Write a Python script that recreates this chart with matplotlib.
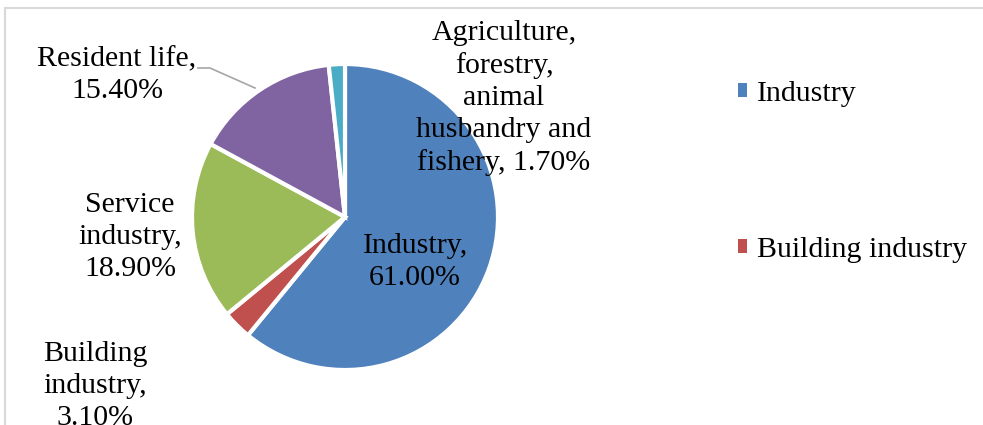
import matplotlib.pyplot as plt
from matplotlib.patches import Rectangle

plt.rcParams['font.family'] = ['Liberation Serif', 'DejaVu Serif']

categories = ['Industry', 'Building industry', 'Service industry', 'Resident life',
              'Agriculture, forestry, animal husbandry and fishery']
shares = [61.00, 3.10, 18.90, 15.40, 1.70]
colors = ['#4F81BD', '#C0504D', '#9BBB59', '#8064A2', '#4BACC6']

label_texts = ['Industry,\n61.00%', 'Building\nindustry,\n3.10%', 'Service\nindustry,\n18.90%',
               'Resident life,\n15.40%', 'Agriculture,\nforestry,\nanimal\nhusbandry and\nfishery, 1.70%']
# label centres in pixels (x, y from top)
label_pos = [(415, 262), (95, 386), (130, 237), (117, 75), (504, 98)]

W, H = 983, 425
fig = plt.figure(figsize=(W / 100, H / 100), dpi=100)
ax = fig.add_axes([0, 0, 1, 1])

# chart frame (cut off at bottom and right)
fig.patches.append(Rectangle((5 / W, -0.2), 1.2, (H - 8) / H + 0.2, transform=fig.transFigure,
                             fill=False, edgecolor='#D9D9D9', linewidth=1.5))

wedges, _ = ax.pie(shares, colors=colors, startangle=90, counterclock=False,
                   center=(345, H - 217), radius=153, frame=True,
                   wedgeprops=dict(edgecolor='white', linewidth=3))
ax.set_xlim(0, W)
ax.set_ylim(0, H)
ax.set_aspect('equal')
ax.axis('off')

for txt, (x, y) in zip(label_texts, label_pos):
    ax.text(x, H - y, txt, ha='center', va='center', fontsize=21.5, linespacing=1.3, color='black')

# leader line for resident life
ax.plot([198, 210, 255], [H - 68, H - 68, H - 88], color='#A6A6A6', linewidth=1.2)

handles = [Rectangle((0, 0), 1, 1, facecolor=c, edgecolor='none') for c in colors[:2]]
ax.legend(handles, categories[:2], loc='upper left', bbox_to_anchor=(711 / W, 1 - 54 / H),
          bbox_transform=fig.transFigure, frameon=False, fontsize=21.5,
          handlelength=0.32, handleheight=0.32, handletextpad=0.33, labelspacing=4.35)

fig.savefig('out.png', dpi=100)
